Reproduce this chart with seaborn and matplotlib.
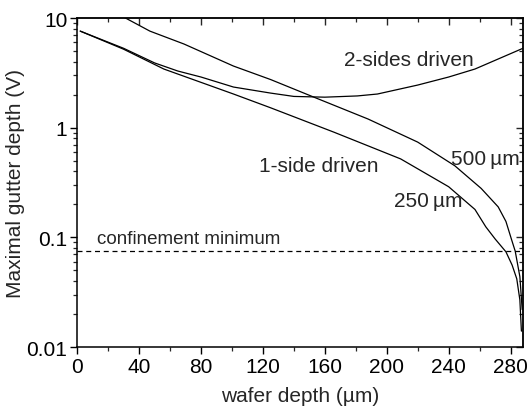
import numpy as np
import pandas as pd
import matplotlib
matplotlib.use("Agg")
import matplotlib.pyplot as plt
import seaborn as sns

# ---- data ----
x_250 = [2, 30, 56, 101, 125, 166, 209, 240, 257, 264, 270, 277, 281, 284, 286, 287]
y_250 = [7.6, 5.2, 3.43, 2.03, 1.52, 0.91, 0.52, 0.29, 0.18, 0.125, 0.097, 0.074, 0.056, 0.042, 0.027, 0.014]

x_500 = [29, 47, 69, 101, 125, 151, 188, 220, 244, 261, 272, 277, 280.5, 283, 286, 287.5]
y_500 = [10.4, 7.6, 5.8, 3.65, 2.75, 1.95, 1.2, 0.74, 0.45, 0.28, 0.19, 0.14, 0.097, 0.075, 0.044, 0.022]

x_2s = [2, 30, 50, 65, 80, 101, 125, 140, 160, 181, 194, 220, 240, 257, 288]
y_2s = [7.6, 5.3, 3.9, 3.29, 2.9, 2.35, 2.07, 1.93, 1.9, 1.95, 2.03, 2.45, 2.9, 3.43, 5.3]

confinement_min = 0.075

x_ticks = [0, 40, 80, 120, 160, 200, 240, 280]
y_ticks = [0.01, 0.1, 1, 10]
y_ticklabels = ["0.01", "0.1", "1", "10"]

sns.set_style("ticks")
plt.rcParams["font.family"] = ["Liberation Sans", "DejaVu Sans"]

fig = plt.figure(figsize=(5.32, 4.14), dpi=100)
ax = fig.add_axes([0.145, 0.159, 0.838, 0.795])

frames = [
    pd.DataFrame({"x": x_250, "y": y_250, "s": "250"}),
    pd.DataFrame({"x": x_500, "y": y_500, "s": "500"}),
    pd.DataFrame({"x": x_2s, "y": y_2s, "s": "2s"}),
]
for df in frames:
    sns.lineplot(data=df, x="x", y="y", ax=ax, color="black", linewidth=0.9,
                 estimator=None, sort=False, legend=False)

ax.axhline(confinement_min, color="black", linewidth=0.9, linestyle=(0, (4, 3)))

ax.set_yscale("log")
ax.set_xlim(0, 288)
ax.set_ylim(0.01, 10)
ax.set_xticks(x_ticks)
ax.set_xticklabels([str(t) for t in x_ticks])
ax.set_xticks(np.arange(20, 288, 40), minor=True)
ax.set_yticks(y_ticks)
ax.set_yticklabels(y_ticklabels)
ax.yaxis.set_minor_locator(matplotlib.ticker.LogLocator(base=10, subs=np.arange(2, 10)))
ax.yaxis.set_minor_formatter(matplotlib.ticker.NullFormatter())

for sp in ax.spines.values():
    sp.set_linewidth(1.1)
    sp.set_color("black")

ax.tick_params(axis="both", which="major", direction="out", length=5, width=1.0,
               labelsize=15, colors="black", pad=2)
ax.tick_params(axis="both", which="minor", direction="out", length=3, width=0.9)

# inward ticks on top and right
secx = ax.secondary_xaxis("top")
secx.set_xticks(x_ticks)
secx.set_xticks(np.arange(20, 288, 40), minor=True)
secx.tick_params(which="major", direction="in", length=5, width=1.0, labeltop=False)
secx.tick_params(which="minor", direction="in", length=3, width=0.9)
secx.spines["top"].set_linewidth(1.1)

secy = ax.secondary_yaxis("right")
secy.set_yticks(y_ticks)
secy.yaxis.set_minor_locator(matplotlib.ticker.LogLocator(base=10, subs=np.arange(2, 10)))
secy.yaxis.set_minor_formatter(matplotlib.ticker.NullFormatter())
secy.tick_params(which="major", direction="in", length=5, width=1.0, labelright=False)
secy.tick_params(which="minor", direction="in", length=3, width=0.9)
secy.spines["right"].set_linewidth(1.1)

ax.set_xlabel("wafer depth (µm)", fontsize=15, labelpad=7)
ax.set_ylabel("Maximal gutter depth (V)", fontsize=15, labelpad=1)

ax.text(214, 4.2, "2-sides driven", fontsize=15, ha="center", va="center")
ax.text(156, 0.45, "1-side driven", fontsize=15, ha="center", va="center")
ax.text(264, 0.52, "500\u2009µm", fontsize=15, ha="center", va="center")
ax.text(227, 0.215, "250\u2009µm", fontsize=15, ha="center", va="center")
ax.text(13, 0.097, "confinement minimum", fontsize=13.5, ha="left", va="center")

fig.savefig("out.png", dpi=100)
